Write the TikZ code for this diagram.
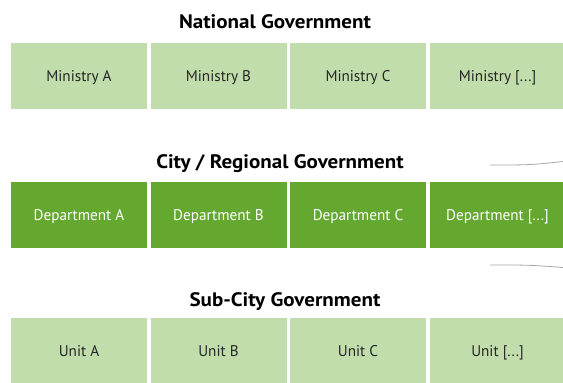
\documentclass[tikz,border=0pt]{standalone}
\usepackage{fontspec}
\setmainfont[FakeStretch=0.98]{PT Sans}
\newfontfamily\levelfont[FakeStretch=1.08]{PT Sans}
\usepackage{tikz}

\definecolor{lightgreen}{RGB}{193,221,172}
\definecolor{darkgreen}{RGB}{100,168,48}

\tikzset{
  cell/.style={minimum width=136pt,minimum height=66pt,inner sep=0pt,text height=13.8pt,text depth=3pt,font=\fontsize{15.5}{18}\selectfont},
  light/.style={cell,fill=lightgreen,text=black!85},
  dark/.style={cell,fill=darkgreen,text=white},
  level/.style={font=\levelfont\fontsize{19.5}{22}\bfseries\selectfont,inner sep=0pt,text height=15pt,text depth=4pt},
  swoosh/.style={draw=black!35,line width=0.8pt}
}

\begin{document}
\begin{tikzpicture}[x=1pt,y=1pt,node distance=139.5pt]
      \useasboundingbox (0,0) rectangle (563,-383);
      \clip (0,0) rectangle (563,-383);

      % national level
      \node[level] (t1) at (275,-23) {National Government};
      \node[light] (1) at (79,-75.7) {Ministry A};
      \node[light,right of=1] (2) {Ministry B};
      \node[light,right of=2] (3) {Ministry C};
      \node[light,right of=3] (4) {Ministry [...]};

      % city level
      \node[level] (t2) at (280,-163) {City / Regional Government};
      \node[dark] (5) at (79,-215) {Department A};
      \node[dark,right of=5] (6) {Department B};
      \node[dark,right of=6] (7) {Department C};
      \node[dark,right of=7] (8) {Department [...]};

      % sub-city level
      \node[level] (t3) at (285,-301.3) {Sub-City Government};
      \node[light] (9) at (79,-351) {Unit A};
      \node[light,right of=9] (10) {Unit B};
      \node[light,right of=10] (11) {Unit C};
      \node[light,right of=11] (12) {Unit [...]};

      \coordinate (a1) at (490,-165);
      \coordinate (a2) at (563,-161.5);
      \coordinate (b1) at (490,-265);
      \coordinate (b2) at (563,-267.5);
      \draw[swoosh] (a1) .. controls (530,-165) .. (a2);
      \draw[swoosh] (b1) .. controls (530,-265) .. (b2);
    \end{tikzpicture}
\end{document}
